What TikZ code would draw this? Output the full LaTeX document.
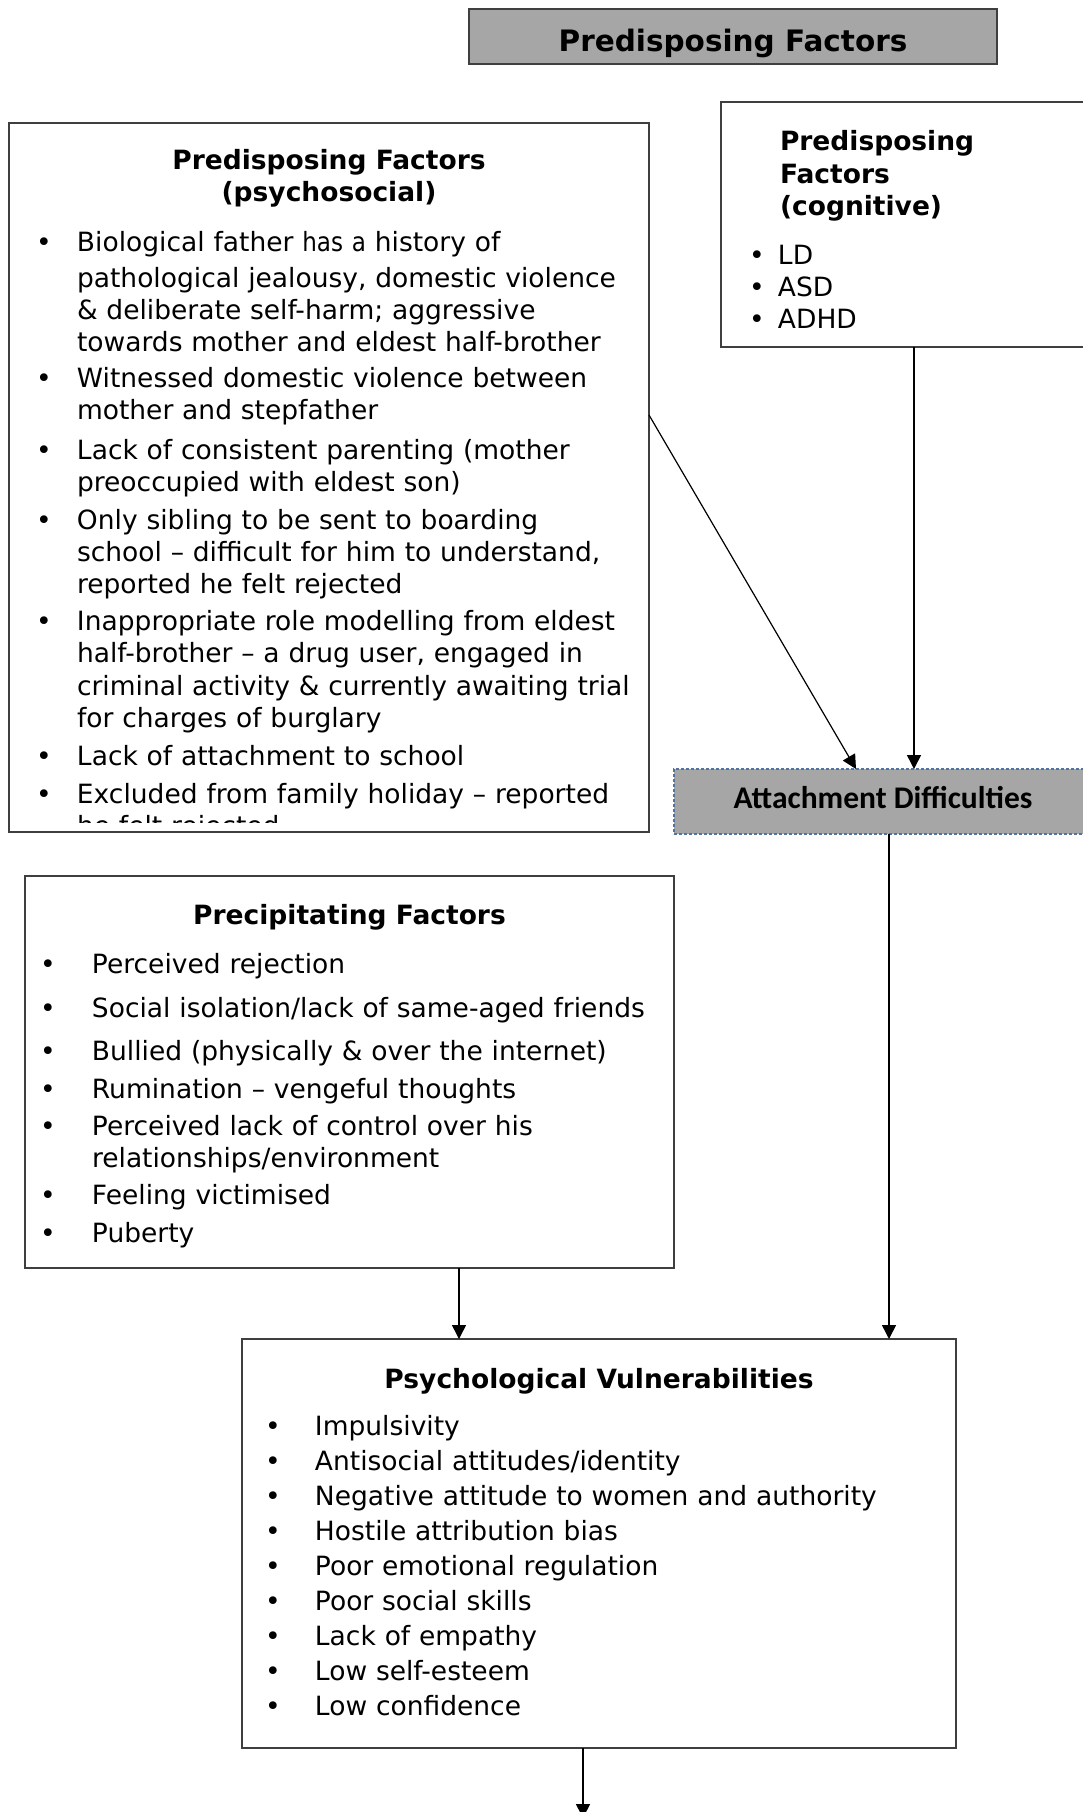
\documentclass[tikz,border=0pt]{standalone}
\usepackage{fontspec}
\setmainfont{DejaVu Sans}
\newfontfamily\calibrifont{Carlito}
\usetikzlibrary{arrows.meta}

\definecolor{boxgray}{HTML}{A6A6A6}
\definecolor{dashblue}{RGB}{80,115,160}
\definecolor{frame}{HTML}{3F3F3F}

\newcommand\bodyfont{\fontsize{26.5}{32.4}\selectfont}
\newcommand\headfont{\fontsize{26.5}{32.4}\selectfont\bfseries}
\newcommand\attfont{\calibrifont\fontsize{31.5}{34}\selectfont\bfseries}
% bullet centred at half the given width to the left of the text
\newcommand\bul[1]{\noindent\llap{\makebox[#1][c]{\textbullet}}}
\newcommand\narrow[1]{{\addfontfeature{FakeStretch=0.87}#1}}

\tikzset{
  box/.style={draw=frame, line width=1.5pt, inner sep=0pt, outer sep=0pt, anchor=north west},
  greybox/.style={box, fill=boxgray},
  dashbox/.style={draw=dashblue, fill=boxgray, line width=1.5pt, dash pattern=on 3pt off 2pt,
                  inner sep=0pt, outer sep=0pt, anchor=north west},
  txt/.style={inner sep=0pt, outer sep=0pt, anchor=base west, text width=#1, align=left, font=\bodyfont},
  txt/.default=620pt,
  head/.style={inner sep=0pt, outer sep=0pt, anchor=base, font=\headfont},
  arr/.style={draw=black, line width=1.5pt, -{Triangle[length=14pt,width=14pt]}},
}

\begin{document}
\begin{tikzpicture}[x=1pt, y=-1pt]
\useasboundingbox (0,0) rectangle (1083,1812);
\fill[white] (0,0) rectangle (1083,1812);

% ---------- boxes ----------
\node[greybox, minimum width=528, minimum height=55] (top) at (469,9) {};
\node[box, minimum width=640, minimum height=709] (psy) at (9,123) {};
\node[box, minimum width=372, minimum height=245] (cog) at (721,102) {};
\node[dashbox, minimum width=420, minimum height=65] (att) at (674,769) {};
\node[box, minimum width=649, minimum height=392] (pre) at (25,876) {};
\node[box, minimum width=714, minimum height=409] (vul) at (242,1339) {};

% ---------- connectors ----------
\coordinate (ydiag) at (0,415);
\coordinate (xdiag) at (856,0);
\coordinate (xcog) at (914,0);
\coordinate (xatt) at (889,0);
\coordinate (xpre) at (459,0);
\coordinate (next) at (583,1818);

\draw[arr, line width=1.2pt] (psy.east |- ydiag) -- (att.north -| xdiag);
\draw[arr] (cog.south -| xcog) -- (att.north -| xcog);
\draw[arr] (att.south -| xatt) -- (vul.north -| xatt);
\draw[arr] (pre.south -| xpre) -- (vul.north -| xpre);
\draw[arr] (vul.south -| next) -- (next);

% ---------- top heading ----------
\node[inner sep=0pt, anchor=base, font=\fontsize{29.5}{30}\selectfont\bfseries] (toptxt) at (733,51) {Predisposing Factors};

% ---------- psychosocial ----------
\node[head] (psyt1) at (329,169) {Predisposing Factors};
\node[head] (psyt2) at (329,201.5) {(psychosocial)};
\begin{scope}
\clip (9,123) rectangle (649,822);
\node[txt] (psy1) at (77,251) {\bul{66pt}Biological father \narrow{has a} history of};
\node[txt] (psy1b) at (77,287) {pathological jealousy, domestic violence\newline
  \& deliberate self-harm; aggressive\newline towards mother and eldest half-brother};
\node[txt] (psy2) at (77,387.5) {\bul{66pt}Witnessed domestic violence between\newline mother and stepfather};
\node[txt] (psy3) at (77,459) {\bul{66pt}Lack of consistent parenting (mother\newline preoccupied with eldest son)};
\node[txt] (psy4) at (77,529) {\bul{66pt}Only sibling to be sent to boarding\newline
  school – difficult for him to understand,\newline reported he felt rejected};
\node[txt] (psy5) at (77,630.5) {\bul{66pt}Inappropriate role modelling from eldest\newline
  half-brother – a drug user, engaged in\newline criminal activity \& currently awaiting trial\newline for charges of burglary};
\node[txt] (psy6) at (77,765.5) {\bul{66pt}Lack of attachment to school};
\node[txt] (psy7) at (77,803.5) {\bul{66pt}Excluded from family holiday – reported\newline he felt rejected};
\end{scope}

% ---------- cognitive ----------
\node[txt=300pt, font=\fontsize{26.5}{32.5}\selectfont\bfseries] (cogt) at (780,150.5) {Predisposing\newline Factors\newline (cognitive)};
\node[txt=300pt, font=\fontsize{26.5}{32}\selectfont] (cogl) at (778,264) {\bul{42pt}LD\par\bul{42pt}ASD\par\bul{42pt}ADHD};

% ---------- attachment ----------
\node[inner sep=0pt, outer sep=0pt, anchor=base, font=\attfont] (atttxt) at (883,808) {Attachment Difficulties};

% ---------- precipitating ----------
\node[head] (pret) at (349.5,924) {Precipitating Factors};
\node[txt] (pre1) at (92,973) {\bul{88pt}Perceived rejection};
\node[txt] (pre2) at (92,1017) {\bul{88pt}Social isolation/lack of same-aged friends};
\node[txt] (pre3) at (92,1060) {\bul{88pt}Bullied (physically \& over the internet)};
\node[txt] (pre4) at (92,1098) {\bul{88pt}Rumination – vengeful thoughts};
\node[txt, font=\fontsize{26.5}{32}\selectfont] (pre5) at (92,1135) {\bul{88pt}Perceived lack of control over his\newline relationships/environment};
\node[txt] (pre6) at (92,1204) {\bul{88pt}Feeling victimised};
\node[txt] (pre7) at (92,1242) {\bul{88pt}Puberty};

% ---------- psychological vulnerabilities ----------
\node[head] (vult) at (599,1388) {Psychological Vulnerabilities};
\node[txt, font=\fontsize{26.5}{35}\selectfont] (vull) at (315,1435) {%
  \bul{84pt}Impulsivity\par
  \bul{84pt}Antisocial attitudes/identity\par
  \bul{84pt}Negative attitude to women and authority\par
  \bul{84pt}Hostile attribution bias\par
  \bul{84pt}Poor emotional regulation\par
  \bul{84pt}Poor social skills\par
  \bul{84pt}Lack of empathy\par
  \bul{84pt}Low self-esteem\par
  \bul{84pt}Low confidence};
\end{tikzpicture}
\end{document}
